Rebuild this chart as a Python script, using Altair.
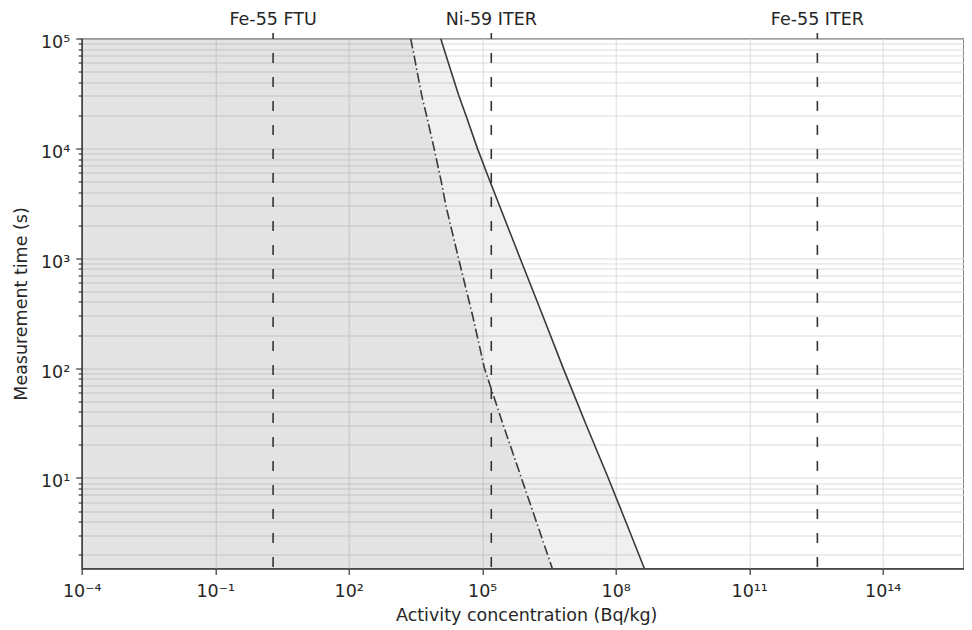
import math
import altair as alt
import pandas as pd

# ---- data ----
meas_time = [1e5, 7e4, 5e4, 3e4, 2e4, 1e4, 5e3, 3e3, 1e3, 300, 100, 30, 10, 3, 1.5]
a_solid = [1.17e4, 1.54e4, 2.0e4, 3.0e4, 4.3e4, 7.8e4, 1.5e5, 2.45e5, 7.1e5, 2.3e6, 6.6e6, 2.2e7, 6.8e7, 2.24e8, 4.4e8]
a_dashdot = [2.47e3, 2.95e3, 3.45e3, 4.4e3, 5.6e3, 8.3e3, 1.2e4, 1.53e4, 2.93e4, 6.1e4, 1.12e5, 3.0e5, 7.6e5, 2.1e6, 3.76e6]

marker_names = ["Fe-55 FTU", "Ni-59 ITER", "Fe-55 ITER"]
marker_values = [2.0, 1.6e5, 3.4e12]

x_domain = [1e-4, 6.6e15]
y_domain = [1.5, 1e5]
x_ticks = [1e-4, 1e-1, 1e2, 1e5, 1e8, 1e11, 1e14]
x_tick_labels = ["10⁻⁴", "10⁻¹", "10²", "10⁵", "10⁸", "10¹¹", "10¹⁴"]
y_major = [10, 100, 1000, 10000, 100000]
y_major_labels = ["10¹", "10²", "10³", "10⁴", "10⁵"]
y_minor = [m * 10 ** e for e in range(0, 5) for m in range(2, 10)]

FONT = "DejaVu Sans"
FS = 17.5
INK = "#262626"
W, H = 882, 530


def label_expr(values, labels):
    expr = ""
    for v, lab in zip(values, labels):
        expr += f"abs(log(datum.value)/LN10 - ({math.log10(v)})) < 0.001 ? '{lab}' : "
    return expr + "''"


major_test = "abs(log(datum.value)/LN10 - round(log(datum.value)/LN10)) < 0.001"

xscale = alt.Scale(type="log", domain=x_domain, nice=False)
yscale = alt.Scale(type="log", domain=y_domain, nice=False)

xaxis = alt.Axis(
    values=x_ticks,
    labelExpr=label_expr(x_ticks, x_tick_labels),
    grid=True, gridColor="#dcdcdc", gridWidth=1,
    tickSize=6, tickColor="#333", tickWidth=1.2,
    domainColor="#333", domainWidth=1.2,
    labelFontSize=FS, labelFont=FONT, labelColor=INK, labelPadding=8,
    labelFlush=False, labelOverlap=False,
    titleFontSize=FS, titleFont=FONT, titleColor=INK, titleFontWeight="normal",
    titleX=444.5, titleY=52, titleBaseline="alphabetic", titleAlign="center",
)
yaxis = alt.Axis(
    values=sorted(y_minor + y_major),
    labelExpr=label_expr(y_major, y_major_labels),
    grid=True, gridColor="#dcdcdc", gridWidth=1,
    tickSize={"condition": {"test": major_test, "value": 6}, "value": 3.5},
    tickColor="#333", tickWidth=1.2,
    domainColor="#333", domainWidth=1.2,
    labelFontSize=FS, labelFont=FONT, labelColor=INK, labelPadding=6, labelOffset=4,
    labelFlush=False, labelOverlap=False,
    titleFontSize=FS, titleFont=FONT, titleColor=INK, titleFontWeight="normal",
    titleX=-55.6, titleY=265, titleAngle=270, titleBaseline="alphabetic", titleAlign="center",
)

XT = "Activity concentration (Bq/kg)"
YT = "Measurement time (s)"


def X(field):
    return alt.X(f"{field}:Q", scale=xscale, axis=xaxis, title=XT)


def Y(field):
    return alt.Y(f"{field}:Q", scale=yscale, axis=yaxis, title=YT)


curves = pd.DataFrame({"t": meas_time, "solid": a_solid, "dashdot": a_dashdot})
markers = pd.DataFrame({"name": marker_names, "A": marker_values})

area_light = alt.Chart(curves).mark_area(orient="horizontal", color="black", opacity=0.06, clip=True).encode(
    y=Y("t"), x=X("solid"), x2=alt.datum(x_domain[0])
)
area_dark = alt.Chart(curves).mark_area(orient="horizontal", color="black", opacity=0.05, clip=True).encode(
    y=Y("t"), x=X("dashdot"), x2=alt.datum(x_domain[0])
)
line_solid = alt.Chart(curves).mark_line(color="#3a3a3a", strokeWidth=1.6, clip=True).encode(
    x=X("solid"), y=Y("t")
)
line_dd = alt.Chart(curves).mark_line(color="#3a3a3a", strokeWidth=1.6, strokeDash=[10, 3, 1.5, 3], clip=True).encode(
    x=X("dashdot"), y=Y("t")
)
rules = alt.Chart(markers).mark_rule(color="#333", strokeWidth=1.6, strokeDash=[10, 14], strokeDashOffset=4).encode(
    x=X("A"), y=alt.value(-5.5), y2=alt.value(H)
)
texts = alt.Chart(markers).mark_text(fontSize=FS, font=FONT, color=INK, baseline="alphabetic", align="center").encode(
    x=X("A"), y=alt.value(-14), text="name:N"
)

chart = alt.layer(area_light, area_dark, line_solid, line_dd, rules, texts).properties(
    width=W,
    height=H,
    padding={"left": 73.7, "top": 30.5, "right": 0, "bottom": 57},
    autosize=alt.AutoSizeParams(type="none"),
).configure_view(stroke="#333", strokeWidth=1.2)

chart.save("out.html", embed_options={"renderer": "svg", "actions": False})
